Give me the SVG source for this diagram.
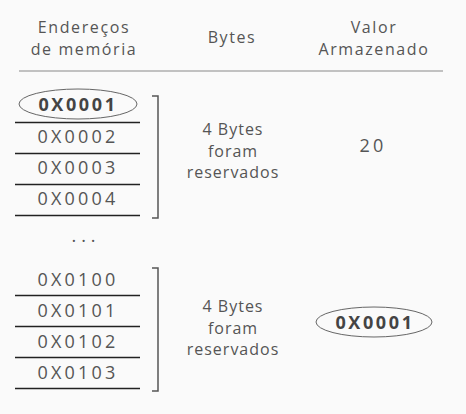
<svg xmlns="http://www.w3.org/2000/svg" width="466" height="414" viewBox="0 0 466 414">
<style>
text{font-family:"Open Sans","Liberation Sans",sans-serif;fill:#555;text-anchor:middle}
.h{font-size:16px;letter-spacing:1.6px}
.a{font-size:18px;letter-spacing:3.2px}
.b{font-size:18px;letter-spacing:2.6px;font-weight:bold;fill:#444}
.d{font-size:18px;letter-spacing:5px}
.t{font-size:16px;letter-spacing:1px}
.row{stroke:#222;stroke-width:1.5}
.br{fill:none;stroke:#555;stroke-width:1.5}
.ov{fill:none;stroke:#666;stroke-width:1}
</style>
<rect width="466" height="414" fill="#fafafa"/>
<g id="header">
<text class="h" x="84" y="33">Endereços</text>
<text class="h" x="84" y="55">de memória</text>
<text class="h" x="232" y="43">Bytes</text>
<text class="h" x="374" y="33">Valor</text>
<text class="h" x="374" y="55">Armazenado</text>
<line x1="19" y1="71" x2="443" y2="71" stroke="#888" stroke-width="1.2"/>
</g>
<g id="addr1">
<ellipse class="ov" cx="78" cy="104" rx="59" ry="15"/>
<text class="b" x="78" y="111">0X0001</text>
</g>
<g id="addr2"><text class="a" x="78" y="143">0X0002</text></g>
<g id="addr3"><text class="a" x="78" y="174">0X0003</text></g>
<g id="addr4"><text class="a" x="78" y="205">0X0004</text></g>
<g id="dots"><text class="d" x="86" y="242">...</text></g>
<g id="addr100"><text class="a" x="78" y="286">0X0100</text></g>
<g id="addr101"><text class="a" x="78" y="317">0X0101</text></g>
<g id="addr102"><text class="a" x="78" y="348">0X0102</text></g>
<g id="addr103"><text class="a" x="78" y="379">0X0103</text></g>
<g id="lines">
<line class="row" x1="15" y1="122.5" x2="140" y2="122.5"/>
<line class="row" x1="15" y1="153.5" x2="140" y2="153.5"/>
<line class="row" x1="15" y1="184.5" x2="140" y2="184.5"/>
<line class="row" x1="15" y1="215.5" x2="140" y2="215.5"/>
<line class="row" x1="15" y1="295.5" x2="140" y2="295.5"/>
<line class="row" x1="15" y1="326.5" x2="140" y2="326.5"/>
<line class="row" x1="15" y1="357.5" x2="140" y2="357.5"/>
<line class="row" x1="15" y1="388.5" x2="140" y2="388.5"/>
</g>
<g id="bracket1"><polyline class="br" points="152,96 158,96 158,218 152,218"/></g>
<g id="bracket2"><polyline class="br" points="152,268 158,268 158,391 152,391"/></g>
<g id="bytes1">
<text class="t" x="233" y="135">4 Bytes</text>
<text class="t" x="233" y="157">foram</text>
<text class="t" x="233" y="178">reservados</text>
</g>
<g id="value1"><text class="a" x="373" y="152">20</text></g>
<g id="bytes2">
<text class="t" x="233" y="312">4 Bytes</text>
<text class="t" x="233" y="334">foram</text>
<text class="t" x="233" y="355">reservados</text>
</g>
<g id="value2">
<ellipse class="ov" cx="374" cy="322" rx="58" ry="15"/>
<text class="b" x="375" y="329">0X0001</text>
</g>
</svg>
